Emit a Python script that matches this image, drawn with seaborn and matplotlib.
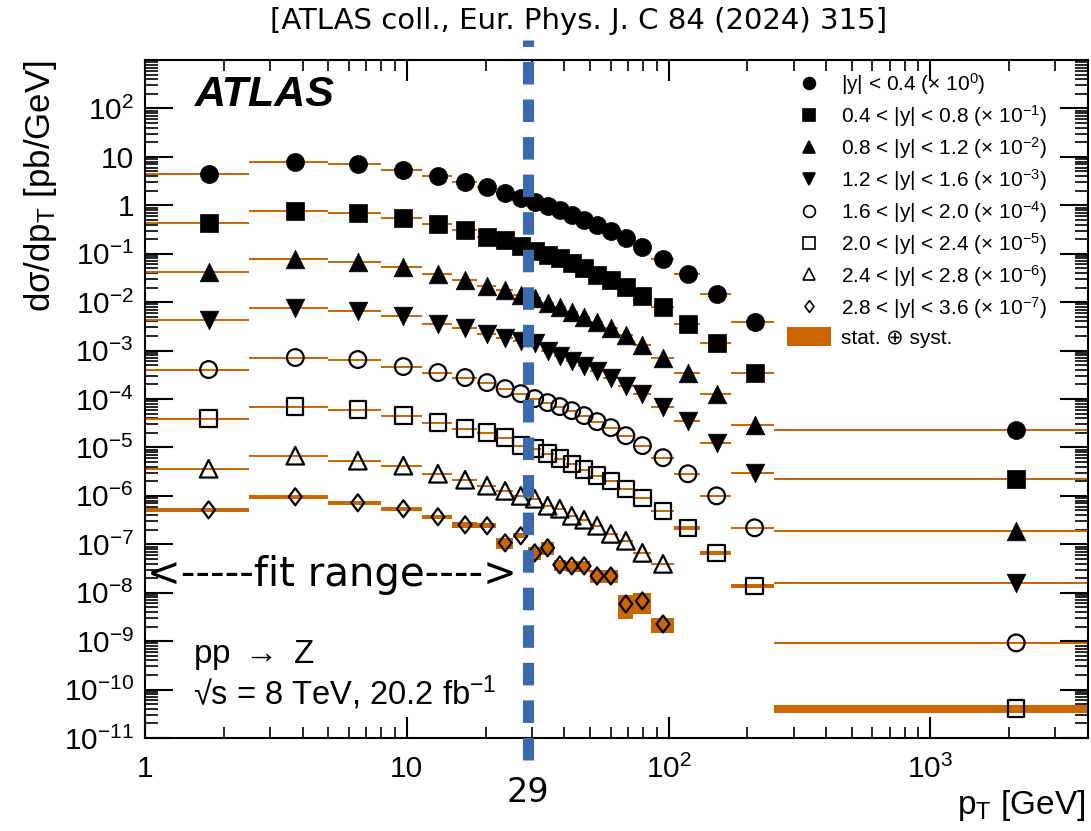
import numpy as np
import pandas as pd
import matplotlib
matplotlib.use("Agg")
import matplotlib.pyplot as plt
import seaborn as sns
from matplotlib.patches import Patch, Rectangle
from matplotlib.lines import Line2D
from matplotlib.path import Path
from matplotlib.ticker import FixedLocator, LogLocator, FuncFormatter, NullFormatter
import matplotlib.transforms as mtransforms

# ---------------- data ----------------
pt_edges = [1.0, 2.5, 5.0, 8.0, 11.4, 14.9, 18.5, 22.0, 25.5, 29.0, 32.6, 36.4, 40.4,
            44.9, 50.2, 56.4, 63.9, 73.4, 85.4, 105.0, 132.0, 173.0, 253.0, 4000.0]

rapidity_labels = ["|y| < 0.4", "0.4 < |y| < 0.8", "0.8 < |y| < 1.2", "1.2 < |y| < 1.6",
                   "1.6 < |y| < 2.0", "2.0 < |y| < 2.4", "2.4 < |y| < 2.8", "2.8 < |y| < 3.6"]
scale_exponents = [0, -1, -2, -3, -4, -5, -6, -7]

xsec_y00_04 = [4.38, 7.75, 7.05, 5.30, 3.98, 2.99, 2.36, 1.77, 1.40, 1.15, 0.953, 0.788, 0.621,
               0.490, 0.386, 0.290, 0.208, 0.135, 0.0764, 0.0374, 0.0144, 0.0038, 2.33e-5]
xsec_y04_08 = [4.25, 7.52, 6.84, 5.38, 4.05, 3.04, 2.18, 1.89, 1.42, 1.12, 0.925, 0.802, 0.631,
               0.498, 0.356, 0.281, 0.201, 0.131, 0.0777, 0.0362, 0.0140, 0.00352, 2.26e-5]
xsec_y08_12 = [4.11, 7.64, 6.62, 5.22, 3.74, 2.81, 2.11, 1.75, 1.38, 1.19, 0.94, 0.777, 0.612,
               0.483, 0.380, 0.286, 0.205, 0.133, 0.0718, 0.0352, 0.0129, 0.00296, 1.9e-5]
xsec_y12_16 = [4.18, 7.41, 6.43, 5.06, 3.62, 2.86, 2.25, 1.86, 1.61, 1.40, 1.00, 0.791, 0.622,
               0.491, 0.386, 0.277, 0.189, 0.129, 0.0697, 0.0357, 0.0125, 0.0030, 1.6e-5]
xsec_y16_20 = [4.06, 7.18, 6.53, 4.68, 3.52, 2.77, 2.18, 1.64, 1.29, 1.02, 0.843, 0.697, 0.575,
               0.454, 0.341, 0.256, 0.175, 0.109, 0.0614, 0.0286, 0.0100, 0.00219, 9.2e-6]
xsec_y20_24 = [3.94, 6.97, 6.04, 4.54, 3.25, 2.44, 2.02, 1.59, 1.09, 0.942, 0.743, 0.585, 0.461,
               0.347, 0.261, 0.205, 0.140, 0.0914, 0.0492, 0.0219, 0.00665, 0.00138, 4.1e-6]
xsec_y24_28 = [3.63, 6.75, 5.32, 4.20, 2.86, 2.15, 1.62, 1.27, 1.00, 0.871, 0.624, 0.541, 0.387,
               0.321, 0.241, 0.164, 0.118, 0.0665, 0.0394]
xsec_y28_36 = [5.15, 9.57, 7.20, 5.41, 3.70, 2.52, 2.41, 1.07, 1.50, 0.665, 0.845, 0.376, 0.358,
               0.358, 0.222, 0.222, 0.0586, 0.0676, 0.0226]

# relative total uncertainty (stat. + syst.)
err_y00_04 = [0.02, 0.02, 0.02, 0.02, 0.02, 0.02, 0.02, 0.02, 0.02, 0.02, 0.02, 0.02,
              0.02, 0.02, 0.02, 0.02, 0.02, 0.02, 0.02, 0.03, 0.03, 0.03, 0.04]
err_y04_08 = [0.02, 0.02, 0.02, 0.02, 0.02, 0.02, 0.02, 0.02, 0.02, 0.02, 0.02, 0.02,
              0.02, 0.02, 0.02, 0.02, 0.02, 0.02, 0.02, 0.03, 0.03, 0.03, 0.04]
err_y08_12 = [0.02, 0.02, 0.02, 0.02, 0.02, 0.02, 0.02, 0.02, 0.02, 0.02, 0.02, 0.02,
              0.02, 0.02, 0.02, 0.02, 0.02, 0.02, 0.02, 0.03, 0.03, 0.04, 0.04]
err_y12_16 = [0.02, 0.02, 0.02, 0.02, 0.02, 0.02, 0.02, 0.02, 0.02, 0.02, 0.02, 0.02,
              0.02, 0.02, 0.02, 0.02, 0.02, 0.02, 0.03, 0.03, 0.04, 0.04, 0.05]
err_y16_20 = [0.03, 0.03, 0.03, 0.03, 0.03, 0.03, 0.03, 0.03, 0.03, 0.03, 0.03, 0.03,
              0.03, 0.03, 0.03, 0.03, 0.03, 0.03, 0.04, 0.04, 0.05, 0.05, 0.06]
err_y20_24 = [0.03, 0.03, 0.03, 0.03, 0.03, 0.03, 0.03, 0.03, 0.03, 0.03, 0.03, 0.03,
              0.03, 0.03, 0.03, 0.03, 0.04, 0.04, 0.05, 0.10, 0.10, 0.10, 0.18]
err_y24_28 = [0.03, 0.03, 0.03, 0.03, 0.03, 0.03, 0.03, 0.03, 0.03, 0.03, 0.03, 0.03,
              0.03, 0.03, 0.04, 0.04, 0.05, 0.05, 0.05]
err_y28_36 = [0.10, 0.10, 0.10, 0.08, 0.10, 0.12, 0.12, 0.27, 0.12, 0.30, 0.30, 0.25,
              0.25, 0.25, 0.30, 0.30, 0.50, 0.45, 0.35]

# ---------------- style ----------------
sns.set_theme(style="ticks")
plt.rcParams["font.family"] = ["Liberation Sans", "DejaVu Sans"]
plt.rcParams["mathtext.fontset"] = "custom"
plt.rcParams["mathtext.rm"] = "Liberation Sans"
plt.rcParams["mathtext.it"] = "Liberation Sans:italic"
plt.rcParams["mathtext.bf"] = "Liberation Sans:bold"
plt.rcParams["mathtext.sf"] = "Liberation Sans"
plt.rcParams["axes.linewidth"] = 1.5
for key in ["text.color", "axes.labelcolor", "xtick.color", "ytick.color", "axes.edgecolor"]:
    plt.rcParams[key] = "black"

ORANGE = "#cc6600"
BLUE = "#3a6aab"

fig = plt.figure(figsize=(10.91, 8.31), dpi=100)
ax = fig.add_axes([0.1329, 0.1119, 0.9973 - 0.1329, 0.9278 - 0.1119])
ax.set_xscale("log")
ax.set_yscale("log")
ax.set_xlim(1, 4000)
ax.set_ylim(1e-11, 1e3)

pt_lo = np.array(pt_edges[:-1])
pt_hi = np.array(pt_edges[1:])
pt_mid = 0.5 * (pt_lo + pt_hi)

diamond = Path([(0, 1), (0.76, 0), (0, -1), (-0.76, 0), (0, 1)],
               [Path.MOVETO, Path.LINETO, Path.LINETO, Path.LINETO, Path.CLOSEPOLY])

series = [
    (xsec_y00_04, err_y00_04, "o", True, 169),
    (xsec_y04_08, err_y04_08, "s", True, 160),
    (xsec_y08_12, err_y08_12, "^", True, 180),
    (xsec_y12_16, err_y12_16, "v", True, 180),
    (xsec_y16_20, err_y16_20, "o", False, 145),
    (xsec_y20_24, err_y20_24, "s", False, 140),
    (xsec_y24_28, err_y24_28, "^", False, 160),
    (xsec_y28_36, err_y28_36, diamond, False, 150),
]

handles = []
labels = []
for (vals, errs, mk, filled, size), lab, k in zip(series, rapidity_labels, scale_exponents):
    n = len(vals)
    y = np.array(vals) * 10.0 ** k
    e = np.array(errs)
    lo, hi, mid = pt_lo[:n], pt_hi[:n], pt_mid[:n]
    # uncertainty boxes
    for a, b, v, r in zip(lo, hi, y, e):
        ax.add_patch(Rectangle((a, v * (1 - r)), b - a, 2 * v * r, facecolor=ORANGE,
                               edgecolor="none", zorder=2))
    ax.hlines(y, lo, hi, color=ORANGE, lw=1.4, zorder=2)
    df = pd.DataFrame({"pT": mid, "xsec": y})
    if filled:
        sns.scatterplot(data=df, x="pT", y="xsec", marker=mk, s=size, color="black",
                        edgecolor="black", linewidth=0.5, zorder=4, ax=ax, legend=False)
    else:
        sns.scatterplot(data=df, x="pT", y="xsec", marker=mk, s=size, facecolor="none",
                        edgecolor="black", linewidth=1.6, zorder=4, ax=ax, legend=False)
    handles.append(Line2D([], [], ls="none", marker=mk, markersize=8.5,
                          markerfacecolor="black" if filled else "none",
                          markeredgecolor="black", markeredgewidth=1.2))
    labels.append(lab + r" ($\times$ 10$^{%d}$)" % k)

handles.append(Patch(facecolor=ORANGE, edgecolor="none"))
labels.append("stat. ⊕ syst.")

# fit range boundary
ax.axvline(29, ymin=-0.0324, ymax=1.0295, color=BLUE, lw=8, ls=(0, (2.03, 1.35)),
           clip_on=False, zorder=6)

# ---------------- axes / ticks ----------------
ax.xaxis.set_major_locator(FixedLocator([1, 10, 100, 1000]))
ax.xaxis.set_minor_locator(LogLocator(base=10, subs=np.arange(2, 10), numticks=50))
ax.xaxis.set_minor_formatter(NullFormatter())


def decade_fmt(v, pos):
    e = int(round(np.log10(v)))
    if e == 0:
        return "1"
    if e == 1:
        return "10"
    return r"$\mathregular{10^{%d}}$" % e


ax.xaxis.set_major_formatter(FuncFormatter(decade_fmt))
ax.yaxis.set_major_locator(FixedLocator([10.0 ** p for p in range(-11, 3)]))
ax.yaxis.set_minor_locator(LogLocator(base=10, subs=np.arange(2, 10), numticks=50))
ax.yaxis.set_minor_formatter(NullFormatter())
ax.yaxis.set_major_formatter(FuncFormatter(decade_fmt))

ax.tick_params(axis="both", which="both", direction="in", top=True, right=True, colors="black")
ax.tick_params(axis="y", which="major", length=20, width=1.5, labelsize=21.5, pad=8)
ax.tick_params(axis="y", which="minor", length=9.5, width=1.2)
ax.tick_params(axis="x", which="major", length=15, width=1.5, labelsize=21.5, pad=12)
ax.tick_params(axis="x", which="minor", length=8, width=1.2)
for sp in ax.spines.values():
    sp.set_color("black")
    sp.set_linewidth(1.5)

ax.set_ylabel("dσ/dp$_{\\mathregular{T}}$ [pb/GeV]", fontsize=25, loc="top")
ax.yaxis.set_label_coords(-0.091, 1.0)
ax.set_xlabel("p$_{\\mathregular{T}}$ [GeV]", fontsize=24, loc="right")
ax.xaxis.set_label_coords(0.997, -0.074)

# label for the fit boundary
trans = mtransforms.blended_transform_factory(ax.transData, ax.transAxes)
ax.text(29, -0.08, "29", transform=trans, ha="center", va="center", fontsize=24,
        family="DejaVu Sans")

# ---------------- annotations ----------------
ax.text(0.053, 0.948, "ATLAS", transform=ax.transAxes, fontsize=31, fontweight="bold",
        fontstyle="italic", ha="left", va="center")
ax.text(0.002, 0.240, "<-----fit range---->", transform=ax.transAxes, fontsize=29,
        family="DejaVu Sans", ha="left", va="center")
ax.text(0.051, 0.122, r"pp $\rightarrow$ Z", transform=ax.transAxes, fontsize=24,
        ha="left", va="center")
ax.text(0.051, 0.067, "√s = 8 TeV, 20.2 fb$^{-1}$", transform=ax.transAxes, fontsize=23.5,
        ha="left", va="center")

fig.text(0.53, 0.975, "[ATLAS coll., Eur. Phys. J. C 84 (2024) 315]", fontsize=21,
         family="DejaVu Sans", ha="center", va="center")

leg = ax.legend(handles, labels, loc="upper left", bbox_to_anchor=(0.681, 0.983),
                frameon=False, fontsize=15, handlelength=2.1, handleheight=1.05,
                handletextpad=0.5, labelspacing=0.29, borderpad=0, borderaxespad=0)
leg.set_zorder(10)

fig.savefig("out.png", dpi=100)
